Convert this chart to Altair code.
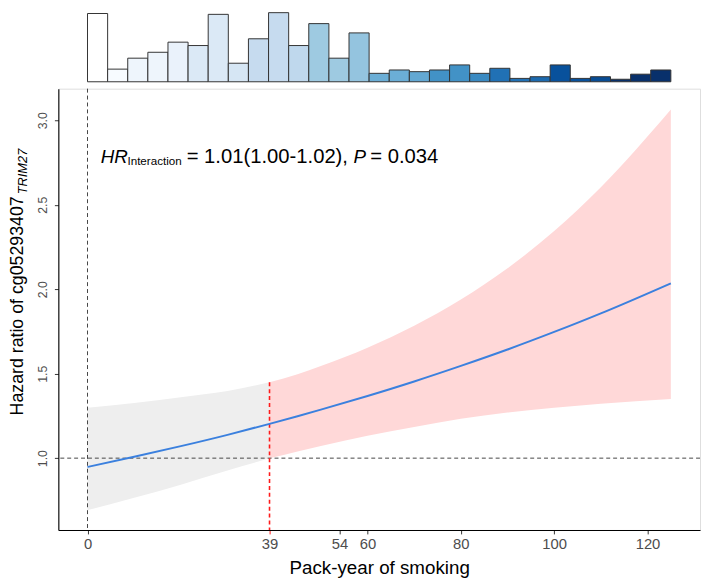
import altair as alt
import numpy as np
import pandas as pd

FONT = "Liberation Sans"

# ---- histogram of pack-years (top panel) ----
hist_counts = [81, 15, 28, 35, 47, 43, 80, 22, 51, 82, 43, 69, 28, 58, 10,
               14, 12, 14, 20, 10, 16, 4, 6, 20, 4, 6, 3, 9, 14]
hist_fills = ["#ffffff", "#f7fbff", "#eef5fc", "#eef5fc", "#eaf2fb",
              "#dbe9f6", "#dbe9f6", "#d6e6f4", "#c6dbef", "#c6dbef",
              "#bfd8ed", "#9ecae1", "#9ecae1", "#94c4df", "#6baed6",
              "#6baed6", "#63a8d3", "#4292c6", "#4292c6", "#3a8ac2",
              "#2171b5", "#2171b5", "#1c6aaf", "#08519c", "#08519c",
              "#084c94", "#08306b", "#08306b", "#08306b"]
hist_min, hist_max = 0, 125

# ---- hazard ratio curve with 95% CI ----
pack_years = [0, 10, 20, 30, 39, 45, 50, 60, 70, 80, 90, 100, 110, 125]
hr = [0.948, 1.008, 1.071, 1.138, 1.203, 1.248, 1.287, 1.368, 1.454, 1.546,
      1.643, 1.747, 1.857, 2.035]
hr_upper = [1.299, 1.327, 1.361, 1.397, 1.449, 1.497, 1.546, 1.654, 1.784,
            1.939, 2.124, 2.344, 2.604, 3.064]
hr_lower = [0.692, 0.765, 0.843, 0.927, 0.999, 1.040, 1.072, 1.132, 1.184,
            1.233, 1.270, 1.298, 1.322, 1.350]
cut_point = 39

x_ticks = [0, 39, 54, 60, 80, 100, 120]
y_ticks = [1.0, 1.5, 2.0, 2.5, 3.0]
x_domain = [-6.25, 131.25]
y_domain = [0.575, 3.187]

W = 650
H_HIST = 70
H_MAIN = 447

edges = np.linspace(hist_min, hist_max, len(hist_counts) + 1)
hist_df = pd.DataFrame({"x0": edges[:-1], "x1": edges[1:], "base": 0,
                        "count": hist_counts, "fill": hist_fills})

xscale = alt.Scale(domain=x_domain, nice=False, zero=False)
yscale = alt.Scale(domain=y_domain, nice=False, zero=False)

hist = alt.Chart(hist_df).mark_rect(stroke="#333333", strokeWidth=1).encode(
    x=alt.X("x0:Q", scale=xscale, axis=None),
    x2="x1:Q",
    y=alt.Y("count:Q", scale=alt.Scale(domain=[0, max(hist_counts)], nice=False), axis=None),
    y2="base:Q",
    fill=alt.Fill("fill:N", scale=None),
).properties(width=W, height=H_HIST, view=alt.ViewBackground(stroke="transparent", strokeWidth=0))

curve_df = pd.DataFrame({"px": pack_years, "hr": hr, "lo": hr_lower, "hi": hr_upper})
gray_df = curve_df[curve_df.px <= cut_point]
pink_df = curve_df[curve_df.px >= cut_point]

RED = "#ff1a1a"

x_axis = alt.Axis(values=x_ticks, title="Pack-year of smoking", format="d",
                  titleFontSize=19, titleFont=FONT, titleFontWeight="normal",
                  titleColor="#000000", titlePadding=7,
                  labelFontSize=15, labelFont=FONT, labelColor="#4d4d4d",
                  labelPadding=3, tickSize=4,
                  tickColor={"condition": {"test": "datum.value === 39", "value": RED},
                             "value": "#333333"},
                  domainColor="#000000", domainWidth=1.1, grid=False, labelFlush=False)
y_axis = alt.Axis(values=y_ticks, title=None, format=".1f",
                  labelFontSize=12.5, labelFont=FONT, labelColor="#4d4d4d",
                  labelAngle=270, labelAlign="center", labelBaseline="bottom",
                  labelPadding=5, tickSize=4, tickColor="#333333",
                  domainColor="#000000", domainWidth=1.1, grid=False, labelFlush=False)

X = alt.X("px:Q", scale=xscale, axis=x_axis)

gray_band = alt.Chart(gray_df).mark_area(color="#eeeeee", interpolate="monotone").encode(
    x=X, y=alt.Y("lo:Q", scale=yscale, axis=y_axis), y2="hi:Q")
pink_band = alt.Chart(pink_df).mark_area(color="#ffd8d8", interpolate="monotone").encode(
    x=X, y=alt.Y("lo:Q", scale=yscale, axis=y_axis), y2="hi:Q")

ref_v = alt.Chart(pd.DataFrame({"px": [0]})).mark_rule(
    color="#444444", strokeDash=[4, 3], strokeWidth=1).encode(x=X)
ref_h = alt.Chart(pd.DataFrame({"hr": [1.0]})).mark_rule(
    color="#444444", strokeDash=[4, 3], strokeWidth=1).encode(
    y=alt.Y("hr:Q", scale=yscale, axis=y_axis))
cut_df = pd.DataFrame({"px": [cut_point], "top": [hr_upper[pack_years.index(cut_point)]],
                       "bottom": [y_domain[0]]})
cut_rule = alt.Chart(cut_df).mark_rule(
    stroke=RED, color=RED, strokeDash=[4, 3], strokeWidth=1.6, opacity=1).encode(
    x=X, y=alt.Y("top:Q", scale=yscale, axis=y_axis), y2="bottom:Q")

curve = alt.Chart(curve_df).mark_line(color="#3b80de", strokeWidth=2,
                                      interpolate="monotone").encode(
    x=X, y=alt.Y("hr:Q", scale=yscale, axis=y_axis))


def label(txt, x, y, size, style="normal", angle=0):
    return alt.Chart(pd.DataFrame({"t": [txt]})).mark_text(
        align="left", baseline="alphabetic", font=FONT, fontSize=size,
        fontStyle=style, angle=angle, color="#000000").encode(
        x=alt.value(x), y=alt.value(y), text="t:N")


annot = [
    label("HR", 43, 75, 19, "italic"),
    label("Interaction", 70, 77, 11.8),
    label("= 1.01(1.00-1.02),", 130, 75, 20.5),
    label("P", 299, 75, 19, "italic"),
    label("= 0.034", 316, 75, 20.5),
    label("Hazard ratio of cg05293407", -36, 331, 18, "normal", 270),
    label("TRIM27", -32, 107, 13, "italic", 270),
]

main = alt.layer(gray_band, pink_band, ref_v, ref_h, cut_rule, curve, *annot).properties(
    width=W, height=H_MAIN)

chart = alt.vconcat(hist, main, spacing=5).properties(
    padding={"left": 0, "top": 0, "right": 0, "bottom": 0}
).configure_view(stroke="transparent", strokeWidth=0).configure(font=FONT)

chart.save("out.html", embed_options={"renderer": "svg", "actions": False})
